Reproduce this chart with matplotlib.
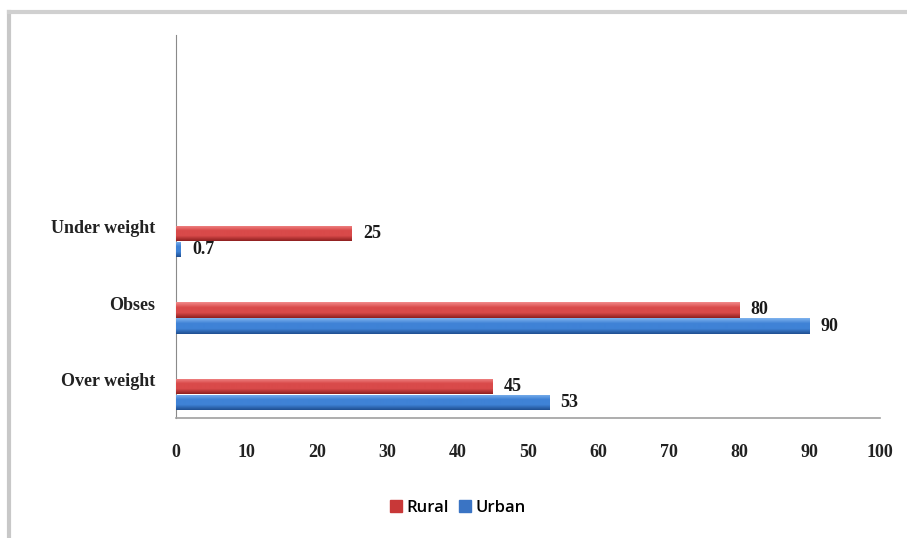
import matplotlib.pyplot as plt
import matplotlib.colors as mcolors
from matplotlib.lines import Line2D
import numpy as np

categories = ["Over weight", "Obses", "Under weight"]
rural = [45, 80, 25]
urban = [53, 90, 0.7]
xticks = [0, 10, 20, 30, 40, 50, 60, 70, 80, 90, 100]

serif = ["Liberation Serif", "DejaVu Serif"]
sans = ["Open Sans", "DejaVu Sans"]


def gradient_bars(ax, bars, light, mid, dark):
    # vertical shading on each bar: light at top, darker toward the bottom
    cmap = mcolors.LinearSegmentedColormap.from_list("shade", [dark, mid, mid, light])
    grad = np.linspace(0, 1, 64).reshape(-1, 1)
    for b in bars:
        x0, y0 = b.get_x(), b.get_y()
        w, h = b.get_width(), b.get_height()
        im = ax.imshow(grad, cmap=cmap, aspect="auto", origin="lower",
                       extent=(x0, x0 + w, y0, y0 + h), zorder=3)
        im.set_clip_path(b)


fig = plt.figure(figsize=(9.07, 5.38), dpi=100)
ax = fig.add_axes([176 / 907, 1 - 418 / 538, 704 / 907, 383 / 538])

pos = np.arange(len(categories))
h = 0.2
rb = ax.barh(pos - 0.09, rural, height=h, color="#d64545", zorder=2, label="Rural")
ub = ax.barh(pos - 0.30, urban, height=h, color="#3f7fd4", zorder=2, label="Urban")
gradient_bars(ax, rb, "#f28a8a", "#d94a4a", "#8e1f1f")
gradient_bars(ax, ub, "#7fb3ee", "#3f82d6", "#1f4f91")

for i in range(len(categories)):
    ax.text(rural[i] + 1.6, pos[i] - 0.09, f"{rural[i]:g}", va="center", ha="left",
            fontsize=13, family=serif, fontweight="semibold", color="#1a1a1a", zorder=4)
    ax.text(urban[i] + 1.6, pos[i] - 0.30, f"{urban[i]:g}", va="center", ha="left",
            fontsize=13, family=serif, fontweight="semibold", color="#1a1a1a", zorder=4)

ax.set_xlim(0, 100)
ax.set_ylim(-0.5, 4.5)
ax.set_xticks(xticks)
ax.set_xticklabels([str(t) for t in xticks], family=serif, fontsize=13, fontweight="bold",
                   color="#222222")
ax.set_yticks(pos)
ax.set_yticklabels(categories, family=serif, fontsize=13, fontweight="bold", color="#222222")
ax.tick_params(axis="x", length=0, pad=19)
ax.tick_params(axis="y", length=0, pad=15)

for s in ["top", "right"]:
    ax.spines[s].set_visible(False)
ax.spines["left"].set_color("#8a8a8a")
ax.spines["bottom"].set_color("#a0a0a0")
ax.spines["bottom"].set_linewidth(1.2)

handles = [plt.Rectangle((0, 0), 1, 1, color="#c83838"), plt.Rectangle((0, 0), 1, 1, color="#3a74c4")]
fig.legend(handles, ["Rural", "Urban"], loc="center", bbox_to_anchor=(458 / 907, 1 - 508 / 538),
           ncol=2, frameon=False, handlelength=0.7, handleheight=0.7, handletextpad=0.3,
           columnspacing=0.6, prop={"family": sans, "size": 12, "weight": "semibold"})

# outer frame of the chart area
fig.add_artist(Line2D([9 / 907, 9 / 907], [0, 1 - 12 / 538], color="#c8c8c8", lw=3))
fig.add_artist(Line2D([9 / 907, 1], [1 - 12 / 538, 1 - 12 / 538], color="#d0d0d0", lw=3))

fig.savefig("out.png", dpi=100)
